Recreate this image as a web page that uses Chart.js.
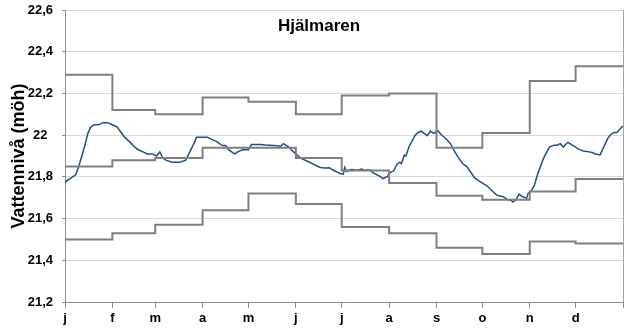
<!DOCTYPE html>
<html>
<head>
<meta charset="utf-8">
<script src="https://cdn.jsdelivr.net/npm/chart.js@4"></script>
<style>
  html, body { margin: 0; padding: 0; background: #fff; }
  #levelChart { display: block; }
</style>
</head>
<body>
<canvas id="levelChart" width="638" height="331"></canvas>
<script>
var chartTitle = 'Hjälmaren';
var yTitle = 'Vattennivå (möh)';
var monthLabels = ['j', 'f', 'm', 'a', 'm', 'j', 'j', 'a', 's', 'o', 'n', 'd'];
var monthStarts = [0, 31, 59, 90, 120, 151, 181, 212, 243, 273, 304, 334, 365];
var yTicks = [21.2, 21.4, 21.6, 21.8, 22.0, 22.2, 22.4, 22.6];

// monthly limits (one value per month)
var upperLimit = [22.29, 22.12, 22.10, 22.18, 22.16, 22.10, 22.19, 22.20, 21.94, 22.01, 22.26, 22.33];
var middleLimit = [21.85, 21.88, 21.89, 21.94, 21.94, 21.89, 21.83, 21.77, 21.71, 21.69, 21.73, 21.79];
var lowerLimit = [21.50, 21.53, 21.57, 21.64, 21.72, 21.67, 21.56, 21.53, 21.46, 21.43, 21.49, 21.48];

// water level, day of year and level
var levelDays = [0, 1, 3, 5, 7, 9, 11, 13, 15, 17, 19, 22, 25, 28, 31, 34, 36, 39, 42, 46, 48, 51, 54, 57, 60, 62, 64, 66, 70, 72,
  75, 79, 81, 83, 85, 86, 88, 89, 93, 96, 99, 103, 105, 107, 109, 111, 113, 116, 118, 120, 122, 124, 128, 131, 134, 137, 141, 143, 144, 147,
  148, 151, 154, 157, 160, 164, 167, 170, 173, 175, 178, 180, 182, 183, 184, 187, 189, 191, 194, 196, 199, 201, 204, 206, 208, 211, 212, 215, 217, 219,
  220, 222, 223, 225, 227, 229, 231, 233, 235, 237, 239, 241, 244, 246, 249, 252, 254, 257, 260, 263, 265, 268, 271, 273, 276, 279, 282, 284, 287, 289,
  292, 293, 295, 297, 299, 302, 303, 305, 307, 309, 311, 313, 315, 317, 320, 322, 324, 326, 328, 329, 331, 334, 336, 339, 342, 345, 347, 350, 351, 353,
  355, 357, 359, 361, 363, 365];
var levelValues = [21.77, 21.78, 21.79, 21.80, 21.81, 21.85, 21.90, 21.95, 22.01, 22.04, 22.05, 22.05, 22.06, 22.06, 22.05, 22.04, 22.02, 21.99, 21.97, 21.94, 21.93, 21.92, 21.91, 21.91, 21.90, 21.92, 21.89, 21.88, 21.87, 21.87,
  21.87, 21.88, 21.91, 21.94, 21.97, 21.99, 21.99, 21.99, 21.99, 21.98, 21.97, 21.95, 21.95, 21.93, 21.92, 21.91, 21.92, 21.93, 21.93, 21.93, 21.955, 21.955, 21.955, 21.953, 21.952, 21.95, 21.947, 21.96, 21.953, 21.94,
  21.93, 21.91, 21.89, 21.88, 21.87, 21.855, 21.845, 21.842, 21.844, 21.834, 21.823, 21.816, 21.813, 21.845, 21.826, 21.835, 21.834, 21.831, 21.837, 21.831, 21.834, 21.823, 21.81, 21.802, 21.792, 21.802, 21.818, 21.829, 21.858, 21.87,
  21.864, 21.904, 21.90, 21.944, 21.971, 22.0, 22.013, 22.019, 22.008, 21.997, 22.019, 22.008, 22.021, 22.003, 21.984, 21.96, 21.933, 21.896, 21.864, 21.848, 21.827, 21.795, 21.779, 21.77, 21.757, 21.736, 21.715, 21.709, 21.704, 21.693,
  21.686, 21.679, 21.69, 21.717, 21.706, 21.698, 21.722, 21.733, 21.759, 21.81, 21.849, 21.889, 21.917, 21.944, 21.952, 21.952, 21.959, 21.943, 21.96, 21.965, 21.956, 21.943, 21.933, 21.924, 21.921, 21.917, 21.91, 21.905, 21.921, 21.952,
  21.984, 22.003, 22.013, 22.013, 22.029, 22.044];

var fontFamily = '"Liberation Sans", Arial, sans-serif';

function stepPoints(values) {
    var pts = [];
    for (var i = 0; i < monthStarts.length; i++) {
        pts.push({ x: monthStarts[i], y: values[Math.min(i, values.length - 1)] });
    }
    return pts;
}

var levelPoints = levelDays.map(function(d, i) { return { x: d, y: levelValues[i] }; });

var frameAndTitle = {
    id: 'frameAndTitle',
    afterDraw: function(chart) {
        var ctx = chart.ctx, a = chart.chartArea;
        ctx.save();
        ctx.strokeStyle = '#a6a6a6';
        ctx.lineWidth = 1;
        ctx.beginPath();
        ctx.moveTo(Math.round(a.right) + 0.5, a.top);
        ctx.lineTo(Math.round(a.right) + 0.5, a.bottom);
        ctx.stroke();
        ctx.fillStyle = '#000';
        ctx.font = 'bold 17px ' + fontFamily;
        ctx.textAlign = 'center';
        ctx.textBaseline = 'middle';
        ctx.fillText(chartTitle, chart.width / 2, a.top + 16);
        ctx.restore();
    }
};

function stepDataset(values) {
    return {
        data: stepPoints(values),
        borderColor: '#7f7f7f',
        borderWidth: 2,
        pointRadius: 0,
        stepped: true,
        fill: false
    };
}

new Chart(document.getElementById('levelChart'), {
    type: 'line',
    data: {
        datasets: [
            stepDataset(upperLimit),
            stepDataset(middleLimit),
            stepDataset(lowerLimit),
            {
                data: levelPoints,
                borderColor: '#1f4f8b',
                borderWidth: 1.5,
                pointRadius: 0,
                tension: 0,
                fill: false
            }
        ]
    },
    options: {
        responsive: false,
        animation: false,
        layout: { padding: { left: 0, right: 15, top: 10, bottom: 0 } },
        plugins: {
            legend: { display: false },
            title: { display: false },
            tooltip: { enabled: false }
        },
        scales: {
            x: {
                type: 'linear',
                min: 0,
                max: 365,
                afterBuildTicks: function(scale) {
                    scale.ticks = monthStarts.map(function(v) { return { value: v }; });
                },
                afterFit: function(scale) { scale.height = 29; },
                grid: { drawOnChartArea: false, drawTicks: true, tickLength: 6, color: '#8c8c8c' },
                border: { color: '#8c8c8c' },
                ticks: {
                    autoSkip: false,
                    maxRotation: 0,
                    padding: 3,
                    color: '#000',
                    font: { family: fontFamily, size: 13, weight: 'bold' },
                    callback: function(v, i) { return monthLabels[i] || ''; }
                }
            },
            y: {
                min: 21.2,
                max: 22.6,
                afterBuildTicks: function(scale) {
                    scale.ticks = yTicks.map(function(v) { return { value: v }; });
                },
                afterFit: function(scale) {
                    scale.width = 65;
                    scale.paddingTop = 0;
                    scale.paddingBottom = 0;
                },
                grid: { color: '#d9d9d9', tickColor: '#8c8c8c', tickLength: 3 },
                border: { color: '#8c8c8c' },
                title: {
                    display: true,
                    text: yTitle,
                    color: '#000',
                    padding: { top: 8, bottom: 0 },
                    font: { family: fontFamily, size: 18, weight: 'bold' }
                },
                ticks: {
                    crossAlign: 'center',
                    padding: 9,
                    color: '#000',
                    font: { family: fontFamily, size: 13, weight: 'bold' },
                    callback: function(v) { return String(Math.round(v * 10) / 10).replace('.', ','); }
                }
            }
        }
    },
    plugins: [frameAndTitle]
});
</script>
</body>
</html>
